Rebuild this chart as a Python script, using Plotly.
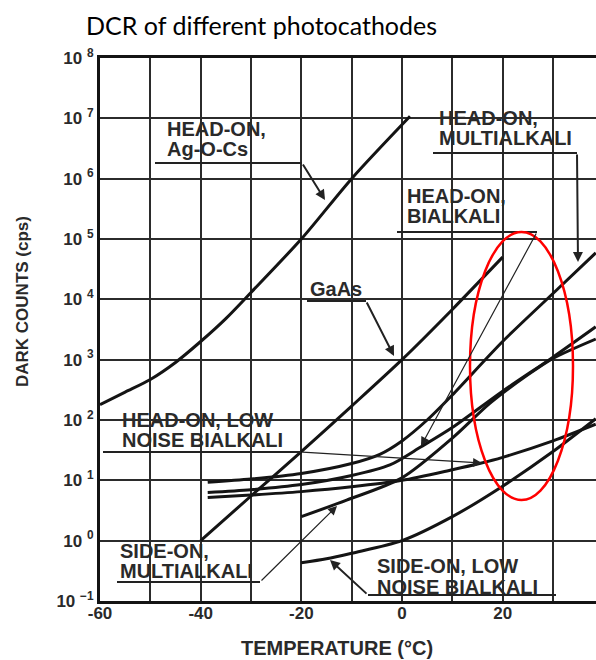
import plotly.graph_objects as go

# ---------------- data ----------------
AGOCS_T = [-60, -55, -50, -45, -40, -35, -30, -20, -10, 1.6]
AGOCS_C = [180, 290, 470, 900, 2000, 4800, 13000, 1.0e5, 1.0e6, 1.08e7]

GAAS_T = [-40, -30, -20, -10, 0, 10, 20]
GAAS_C = [1.0, 5.5, 30, 170, 1000, 6800, 5.0e4]

HM_T = [-38.6, -30, -20, -10, -4.4, 0, 5, 10, 20, 30, 38.5]
HM_C = [9.3, 10.5, 13, 19, 27, 45, 100, 260, 2000, 1.25e4, 5.9e4]

HB_T = [-38.6, -30, -20, -10, -2.4, 3.8, 10, 20, 30, 38.5]
HB_C = [6.3, 7.0, 8.5, 12, 18, 36, 75, 300, 1100, 3500]

HL_T = [-38.6, -30, -20, -10, 0, 10, 15.4, 20, 30, 38.5]
HL_C = [5.2, 5.7, 6.5, 7.8, 10, 15, 19, 24, 45, 85]

SM_T = [-20, -11, 0, 10, 17.5, 25, 30, 38.5]
SM_C = [2.5, 4.7, 11, 50, 190, 560, 1050, 2200]

SL_T = [-20, -15, -10, 0, 10, 20, 30, 38.5]
SL_C = [0.43, 0.5, 0.62, 1.0, 2.5, 8, 30, 105]

X_GRID = [-60, -50, -40, -30, -20, -10, 0, 10, 20, 30]
X_TICK_TEXT = ["-60", "", "-40", "", "-20", "", "0", "", "20", ""]
Y_GRID = [0.1, 1, 10, 100, 1e3, 1e4, 1e5, 1e6, 1e7, 1e8]
Y_TICK_TEXT = ["10 <sup>\u22121</sup>", "10 <sup>0</sup>", "10 <sup>1</sup>", "10 <sup>2</sup>",
               "10 <sup>3</sup>", "10 <sup>4</sup>", "10 <sup>5</sup>", "10 <sup>6</sup>",
               "10 <sup>7</sup>", "10 <sup>8</sup>"]

TITLE = "DCR of different photocathodes"
X_TITLE = "TEMPERATURE (\u00b0C)"
Y_TITLE = "DARK COUNTS (cps)"

# ---------------- layout geometry (pixels) ----------------
W, H = 596, 660
L, R, T, B = 100, 0, 58, 59
PW = W - L - R
PH = H - T - B


def px(x):
    return (x - L) / PW


def py(y):
    return (H - B - y) / PH


fig = go.Figure()
INK = "#141414"
for tx, cy in [(AGOCS_T, AGOCS_C), (GAAS_T, GAAS_C), (HM_T, HM_C), (HB_T, HB_C),
               (HL_T, HL_C), (SM_T, SM_C), (SL_T, SL_C)]:
    fig.add_trace(go.Scatter(x=tx, y=cy, mode="lines",
                             line=dict(color=INK, width=3, shape="spline", smoothing=0.8),
                             hoverinfo="skip", showlegend=False))

shapes = []
annotations = []

# white boxes behind labels (hide grid only)
boxes = [(153, 110, 303, 163), (404, 104, 580, 153), (404, 180, 540, 232),
         (303, 280, 372, 301), (103, 407, 303, 452), (103, 543, 262, 582),
         (368, 553, 560, 595)]
for x0, y0, x1, y1 in boxes:
    shapes.append(dict(type="rect", xref="paper", yref="paper", x0=px(x0), x1=px(x1),
                       y0=py(y1), y1=py(y0), fillcolor="white", line=dict(width=0),
                       layer="between"))

# underlines
underlines = [(155, 302, 163), (433, 577, 153), (397, 537, 232), (307, 366, 301),
              (103, 301, 452), (117, 260, 582), (368, 556, 595)]
for x0, x1, y in underlines:
    shapes.append(dict(type="line", xref="paper", yref="paper", x0=px(x0), x1=px(x1),
                       y0=py(y), y1=py(y), line=dict(color="#222", width=2), layer="above"))

# arrows: (tail x, tail y, tip x, tip y, width)
arrows = [(302, 163, 325, 200, 2), (577, 153, 578, 262, 2), (537, 232, 421, 446, 1.2),
          (366, 301, 394, 356, 2), (301, 452, 482, 463, 1.2), (260, 582, 337, 506, 1.2),
          (368, 595, 330, 560, 2)]
for tx0, ty0, tx1, ty1, w in arrows:
    annotations.append(dict(xref="paper", yref="paper", x=px(tx1), y=py(ty1), text="",
                            showarrow=True, axref="pixel", ayref="pixel",
                            ax=tx0 - tx1, ay=ty0 - ty1, arrowhead=2,
                            arrowsize=1.5 if w < 2 else 1.0,
                            arrowwidth=w, arrowcolor="#222"))

LBL = dict(family="Liberation Sans, Arial, sans-serif", size=20, color="#2a2a2a", weight="bold")
labels = [("HEAD-ON,", 165, 129), ("Ag-O-Cs", 165, 149),
          ("HEAD-ON,", 437, 118), ("MULTIALKALI", 437, 138),
          ("HEAD-ON,", 405, 196), ("BIALKALI", 405, 216),
          ("GaAs", 308, 289),
          ("HEAD-ON, LOW", 120, 420), ("NOISE BIALKALI", 120, 440),
          ("SIDE-ON,", 118, 551), ("MULTIALKALI", 118, 571),
          ("SIDE-ON, LOW", 375, 566), ("NOISE BIALKALI", 375, 587)]
for txt, x, y in labels:
    annotations.append(dict(xref="paper", yref="paper", x=px(x), y=py(y), text=txt,
                            showarrow=False, xanchor="left", yanchor="middle", font=LBL))

# titles
annotations.append(dict(xref="paper", yref="paper", x=px(261), y=py(25), text=TITLE,
                        showarrow=False, xanchor="center", yanchor="middle",
                        font=dict(family="Lato, sans-serif", size=25, color="black")))
annotations.append(dict(xref="paper", yref="paper", x=px(337), y=py(648), text=X_TITLE,
                        showarrow=False, xanchor="center", yanchor="middle",
                        font=dict(family="Liberation Sans, Arial", size=20, color="#2a2a2a",
                                  weight="bold")))
annotations.append(dict(xref="paper", yref="paper", x=px(22), y=py(302), text=Y_TITLE,
                        showarrow=False, xanchor="center", yanchor="middle", textangle=-90,
                        font=dict(family="Liberation Sans, Arial", size=17, color="#2a2a2a",
                                  weight="bold")))

# red ellipse
shapes.append(dict(type="circle", xref="paper", yref="paper", x0=px(470), x1=px(573),
                   y0=py(500), y1=py(232), line=dict(color="red", width=2.5), layer="above"))

TICKF = dict(family="Liberation Sans, Arial", size=17, color="#2a2a2a", weight="bold")
fig.update_layout(
    width=W, height=H, autosize=False,
    margin=dict(l=L, r=R, t=T, b=B, pad=0),
    paper_bgcolor="white", plot_bgcolor="white",
    showlegend=False,
    shapes=shapes, annotations=annotations,
    xaxis=dict(range=[-60, 38.55], tickvals=X_GRID, ticktext=X_TICK_TEXT,
               showgrid=True, gridcolor="#2b2b2b", gridwidth=2, zeroline=False,
               showline=True, linecolor=INK, linewidth=3, mirror=True,
               ticks="", tickfont=TICKF, ticklabelstandoff=-5),
    yaxis=dict(type="log", range=[-1, 8], tickvals=Y_GRID, ticktext=Y_TICK_TEXT,
               showgrid=True, gridcolor="#2b2b2b", gridwidth=2, zeroline=False,
               showline=True, linecolor=INK, linewidth=3, mirror=False,
               ticks="", tickfont=TICKF),
)

fig.write_html("out.html")
